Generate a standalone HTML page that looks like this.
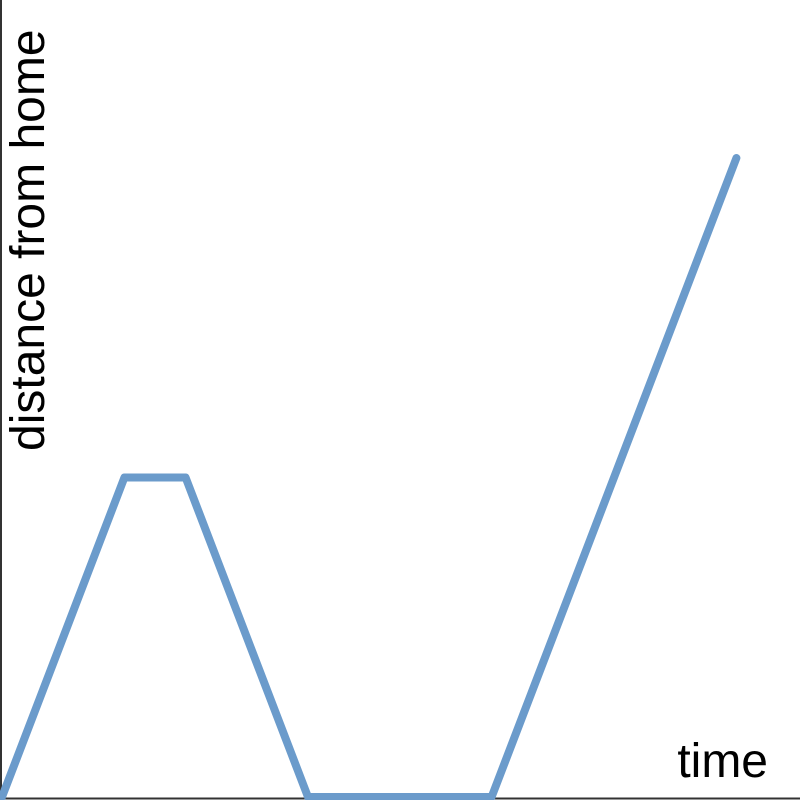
<!DOCTYPE html>
<html>
<head>
<meta charset="utf-8">
<style>
  html, body { margin: 0; padding: 0; background: #fff; }
  svg { display: block; }
  text { font-family: "Liberation Sans", Arial, sans-serif; fill: #000; }
</style>
</head>
<body>
<svg id="chart" width="800" height="800" viewBox="0 0 800 800">
  <line x1="1" y1="0" x2="1" y2="799" stroke="#333" stroke-width="2"></line>
  <line x1="0" y1="798.5" x2="800" y2="798.5" stroke="#333" stroke-width="2"></line>
  <text x="768" y="777" font-size="48" text-anchor="end">time</text>
  <text transform="translate(44,451) rotate(-90)" font-size="48" text-anchor="start">distance from home</text>
</svg>
<script>
const times = [0, 2, 3, 5, 8, 12];
const distances = [0, 1, 1, 0, 0, 2];

function xScale(t) { return 2 + t * 61.2; }
function yScale(d) { return 797 - d * 319.5; }

const svg = document.getElementById('chart');
const pts = times.map((t, i) => xScale(t) + ',' + yScale(distances[i])).join(' ');
const line = document.createElementNS('http://www.w3.org/2000/svg', 'polyline');
line.setAttribute('points', pts);
line.setAttribute('fill', 'none');
line.setAttribute('stroke', '#6b9bcb');
line.setAttribute('stroke-width', '8');
line.setAttribute('stroke-linejoin', 'round');
line.setAttribute('stroke-linecap', 'round');


svg.appendChild(line);
</script>
</body>
</html>
